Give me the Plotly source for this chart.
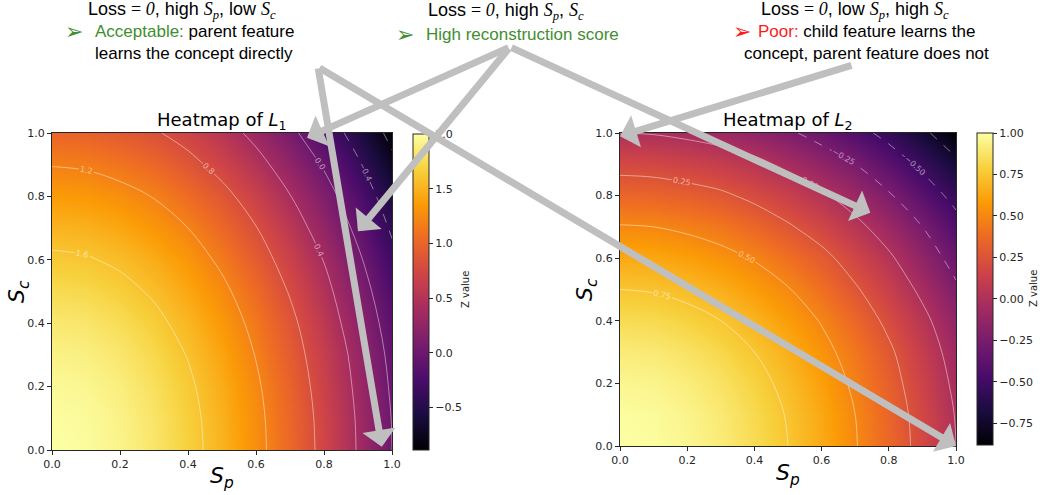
import plotly.graph_objects as go

# ---------------- data ----------------
s_p = [0.0, 0.1, 0.2, 0.3, 0.4, 0.5, 0.6, 0.7, 0.8, 0.9, 1.0]
s_c = [0.0, 0.1, 0.2, 0.3, 0.4, 0.5, 0.6, 0.7, 0.8, 0.9, 1.0]

# rows: S_c (bottom -> top), columns: S_p (left -> right)
L1 = [
    [2.00, 1.98, 1.92, 1.82, 1.68, 1.50, 1.28, 1.02, 0.72, 0.38, 0.00],
    [1.99, 1.97, 1.91, 1.81, 1.67, 1.49, 1.27, 1.01, 0.71, 0.37, -0.01],
    [1.96, 1.94, 1.88, 1.78, 1.64, 1.46, 1.24, 0.98, 0.68, 0.34, -0.04],
    [1.91, 1.89, 1.83, 1.73, 1.59, 1.41, 1.19, 0.93, 0.64, 0.30, -0.08],
    [1.84, 1.82, 1.76, 1.66, 1.52, 1.34, 1.13, 0.87, 0.57, 0.23, -0.14],
    [1.75, 1.73, 1.67, 1.57, 1.43, 1.26, 1.04, 0.78, 0.49, 0.15, -0.22],
    [1.64, 1.62, 1.56, 1.46, 1.33, 1.15, 0.93, 0.68, 0.39, 0.05, -0.32],
    [1.51, 1.49, 1.43, 1.33, 1.20, 1.02, 0.81, 0.56, 0.26, -0.07, -0.44],
    [1.36, 1.34, 1.28, 1.19, 1.05, 0.88, 0.67, 0.41, 0.13, -0.20, -0.57],
    [1.19, 1.17, 1.11, 1.02, 0.88, 0.71, 0.50, 0.25, -0.03, -0.36, -0.72],
    [1.00, 0.98, 0.92, 0.83, 0.70, 0.53, 0.32, 0.07, -0.21, -0.53, -0.89],
]
L2 = [
    [1.00, 0.99, 0.96, 0.91, 0.84, 0.75, 0.64, 0.51, 0.36, 0.19, 0.00],
    [0.99, 0.98, 0.95, 0.90, 0.83, 0.74, 0.63, 0.50, 0.35, 0.18, -0.01],
    [0.96, 0.95, 0.92, 0.87, 0.80, 0.71, 0.60, 0.47, 0.32, 0.15, -0.04],
    [0.91, 0.90, 0.87, 0.82, 0.75, 0.66, 0.55, 0.43, 0.28, 0.11, -0.08],
    [0.84, 0.83, 0.80, 0.75, 0.68, 0.59, 0.49, 0.36, 0.21, 0.05, -0.14],
    [0.75, 0.74, 0.71, 0.66, 0.59, 0.51, 0.40, 0.27, 0.13, -0.04, -0.22],
    [0.64, 0.63, 0.60, 0.55, 0.49, 0.40, 0.30, 0.17, 0.03, -0.14, -0.32],
    [0.51, 0.50, 0.47, 0.43, 0.36, 0.27, 0.17, 0.05, -0.09, -0.25, -0.43],
    [0.36, 0.35, 0.32, 0.28, 0.21, 0.13, 0.03, -0.09, -0.23, -0.39, -0.56],
    [0.19, 0.18, 0.15, 0.11, 0.05, -0.04, -0.14, -0.25, -0.39, -0.54, -0.71],
    [0.00, -0.01, -0.04, -0.08, -0.14, -0.22, -0.32, -0.43, -0.56, -0.71, -0.88],
]

L1_range = [-0.89, 2.0]
L2_range = [-0.88, 1.0]
L1_cbar_ticks = [-0.5, 0.0, 0.5, 1.0, 1.5, 2.0]
L2_cbar_ticks = [-0.75, -0.5, -0.25, 0.0, 0.25, 0.5, 0.75, 1.0]
L1_levels_pos = [0.0, 1.6, 0.4]   # start, end, step
L1_levels_neg = [-0.8, -0.4, 0.4]
L2_levels_pos = [0.0, 0.75, 0.25]
L2_levels_neg = [-0.75, -0.25, 0.25]
axis_ticks = [0.0, 0.2, 0.4, 0.6, 0.8, 1.0]

# ---------------- layout geometry ----------------
W, H = 1040, 495
def px_x(p): return p / W
def px_y(p): return 1 - p / H

TICKFONT = dict(family="DejaVu Sans", size=11, color="#262626")
SANS = "Liberation Sans, Arial, sans-serif"
ARROW = "#BFBFBF"
GREEN = "#3F8E2F"
RED = "#FF1A1A"

fig = go.Figure()

def add_panel(z, zr, ticks, pos, neg, fmt, xa, ya, cbx, cby0, cby1):
    fig.add_trace(go.Heatmap(
        x=s_p, y=s_c, z=z, colorscale="Inferno", zmin=zr[0], zmax=zr[1],
        zsmooth="best", xaxis=xa, yaxis=ya, hoverinfo="skip",
        colorbar=dict(
            x=px_x(cbx), xanchor="left", xpad=0, thickness=16,
            y=px_y(cby1), yanchor="bottom", ypad=0,
            len=(cby1 - cby0) / H, lenmode="fraction",
            tickvals=ticks, tickformat=fmt, ticks="outside", ticklen=4,
            tickcolor="#262626", tickfont=TICKFONT,
            outlinewidth=1, outlinecolor="#262626",
        ),
    ))
    for lv, dash in ((pos, "solid"), (neg, "dash")):
        fig.add_trace(go.Contour(
            x=s_p, y=s_c, z=z, xaxis=xa, yaxis=ya, showscale=False,
            hoverinfo="skip",
            contours=dict(coloring="none", start=lv[0], end=lv[1], size=lv[2],
                          showlabels=True, labelformat=fmt,
                          labelfont=dict(size=8, color="rgba(255,255,255,0.55)",
                                         family="DejaVu Sans")),
            line=dict(color="rgba(255,255,255,0.45)", width=1, dash=dash,
                      smoothing=1),
        ))

add_panel(L1, L1_range, L1_cbar_ticks, L1_levels_pos, L1_levels_neg, ".1f",
          "x", "y", 413, 134, 450)
add_panel(L2, L2_range, L2_cbar_ticks, L2_levels_pos, L2_levels_neg, ".2f",
          "x2", "y2", 977, 133, 445)

ax_common = dict(range=[0, 1], tickvals=axis_ticks, tickformat=".1f",
                 ticks="outside", ticklen=4, tickcolor="#262626",
                 tickfont=TICKFONT, showline=True, linecolor="#262626",
                 linewidth=1, mirror=True, showgrid=False, zeroline=False,
                 automargin=False)

fig.update_layout(
    template="none",
    width=W, height=H, margin=dict(l=0, r=0, t=0, b=0, autoexpand=False),
    paper_bgcolor="white", plot_bgcolor="white", showlegend=False,
    xaxis=dict(domain=[px_x(52), px_x(392)], anchor="y", **ax_common),
    yaxis=dict(domain=[px_y(450), px_y(133)], anchor="x", **ax_common),
    xaxis2=dict(domain=[px_x(620), px_x(956)], anchor="y2", **ax_common),
    yaxis2=dict(domain=[px_y(446), px_y(133)], anchor="x2", **ax_common),
)

anns = []
def txt(text, x, y, size, family=SANS, color="black", angle=0):
    anns.append(dict(text=text, x=px_x(x), y=px_y(y), xref="paper", yref="paper",
                     xanchor="center", yanchor="middle", showarrow=False,
                     textangle=angle,
                     font=dict(size=size, family=family, color=color)))

MI = "font-family:DejaVu Sans;font-style:italic"
# panel titles
txt("Heatmap of <span style='%s'>L</span><sub>1</sub>" % MI, 222, 121, 18, "DejaVu Sans")
txt("Heatmap of <span style='%s'>L</span><sub>2</sub>" % MI, 788, 121, 18, "DejaVu Sans")
# axis labels
sp = "<i>S</i><sub><i>p</i></sub>"
sc = "<i>S</i><sub><i>c</i></sub>"
txt(sp, 222, 477, 22, "DejaVu Sans")
txt(sp, 788, 474, 22, "DejaVu Sans")
txt(sc, 18, 292, 22, "DejaVu Sans", angle=-90)
txt(sc, 586, 290, 22, "DejaVu Sans", angle=-90)
# colorbar labels
txt("Z value", 465, 290, 10, "DejaVu Sans", "#262626", -90)
txt("Z value", 1033, 289, 10, "DejaVu Sans", "#262626", -90)

# top text blocks
SI = "font-family:Liberation Serif;font-style:italic"
SR = "font-family:Liberation Serif"
def var(s, sub):
    return "<span style='%s'>%s</span><sub><span style='%s'>%s</span></sub>" % (SI, s, SI, sub)
eq = "<span style='%s'>= </span><span style='%s'>0</span>" % (SR, SI)

txt("Loss " + eq + ", high " + var("S", "p") + ", low " + var("S", "c"), 182, 10, 18)
txt("➢", 74, 32, 22, "DejaVu Sans", GREEN)
txt("<span style='color:%s'>Acceptable:</span> parent feature" % GREEN, 194, 32, 17)
txt("learns the concept directly", 194, 53, 17)

txt("Loss " + eq + ", high " + var("S", "p") + ", " + var("S", "c"), 506, 11, 18)
txt("➢", 405, 34, 22, "DejaVu Sans", GREEN)
txt("High reconstruction score", 522, 34, 17, SANS, GREEN)

txt("Loss " + eq + ", low " + var("S", "p") + ", high " + var("S", "c"), 855, 10, 18)
txt("➢", 742, 32, 22, "DejaVu Sans", RED)
txt("<span style='color:%s'>Poor:</span> child feature learns the" % RED, 866, 32, 17)
txt("concept, parent feature does not", 866, 53, 17)

# arrows: tip in data coordinates, tail converted to the same axes
def arrow(xa, ya, tip, tail):
    anns.append(dict(text="", x=tip[0], y=tip[1], xref=xa, yref=ya,
                     ax=tail[0], ay=tail[1], axref=xa, ayref=ya,
                     showarrow=True, arrowhead=1, arrowsize=0.8,
                     arrowwidth=7, arrowcolor=ARROW, standoff=0))

def tail1(px, py): return ((px - 52) / 340, (450 - py) / 317)
def tail2(px, py): return ((px - 620) / 336, (446 - py) / 313)

arrow("x", "y", (0.97, 0.01), tail1(318, 67))
arrow("x2", "y2", (1.0, 0.0), tail2(318, 67))
arrow("x", "y", (0.75, 0.985), tail1(510, 47))
arrow("x", "y", (0.90, 0.69), tail1(510, 47))
arrow("x2", "y2", (0.745, 0.745), tail2(510, 47))
arrow("x2", "y2", (0.0, 0.99), tail2(853, 65))

fig.update_layout(annotations=anns)
# remove the default 8 px page margin so the figure fills the window exactly
fig.write_html("out.html", config={"displayModeBar": False},
               post_script="document.body.style.margin='0px';")
